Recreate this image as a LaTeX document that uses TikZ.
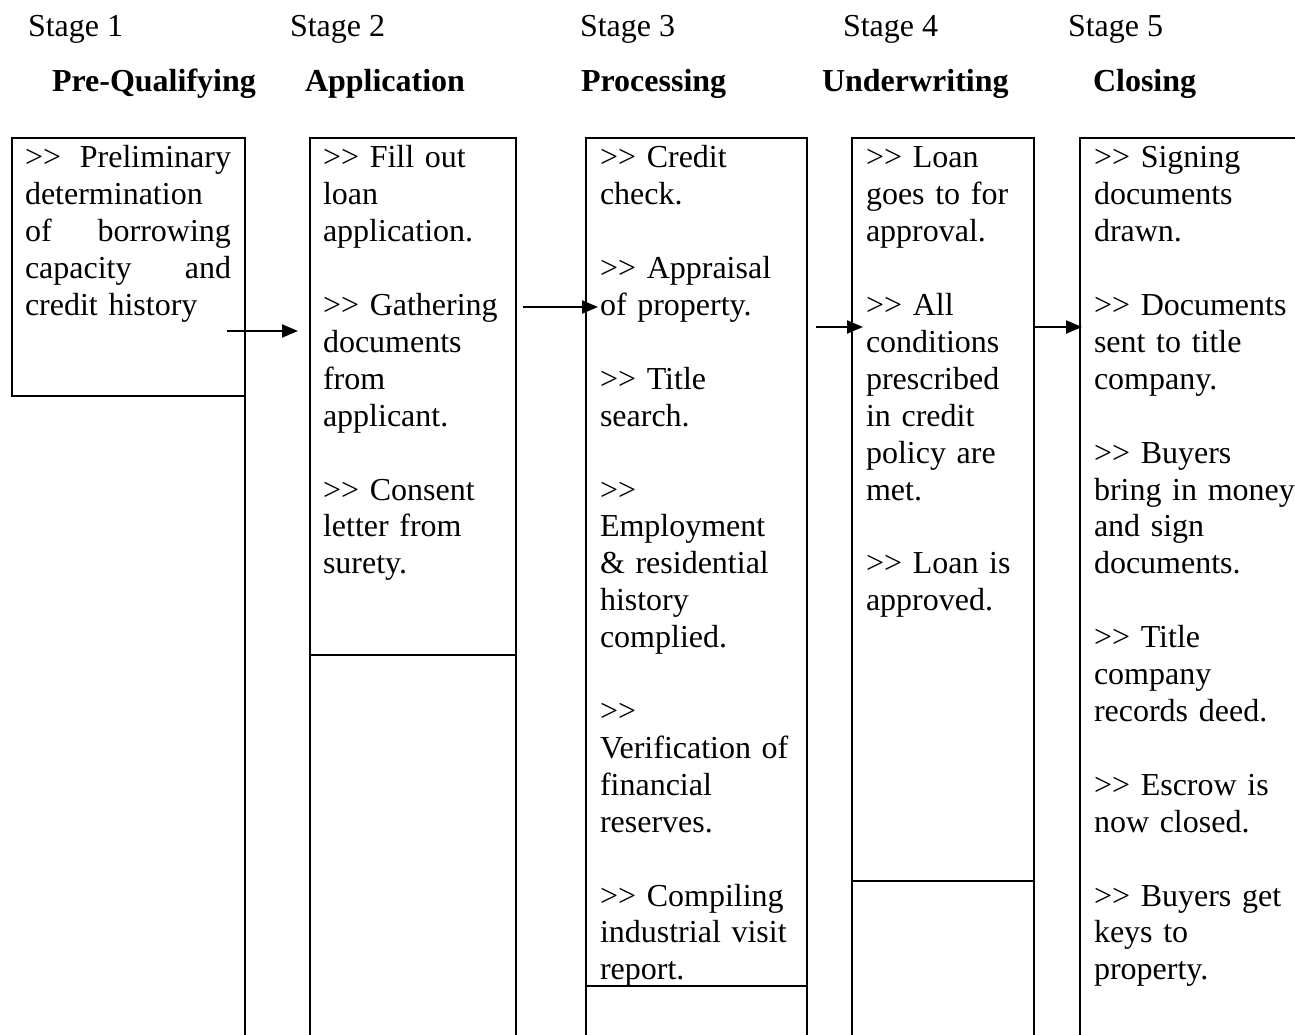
\documentclass[tikz,border=0pt]{standalone}
\usepackage{fontspec}
\setmainfont{Liberation Serif}
\usetikzlibrary{arrows.meta}
\newcommand\dgt{>\kern0pt>}
\begin{document}
\begin{tikzpicture}[x=1pt,y=-1pt,
  every node/.style={inner sep=0pt, outer sep=0pt},
  body/.style={font=\fontsize{32}{36.9}\selectfont, anchor=north west, align=left, text width=#1},
  body/.default=230pt,
  stagelbl/.style={font=\fontsize{32}{36.9}\selectfont, anchor=base west},
  head/.style={font=\fontsize{32}{36.9}\selectfont\bfseries, anchor=base west},
  frame/.style={line width=2.3pt},
  framebox/.style={draw, line width=2.3pt, anchor=north west, minimum width=#1},
  flow/.style={line width=2.2pt, -{Triangle[length=16pt,width=13pt]}}]
\useasboundingbox (0,0) rectangle (1295,1035);
\coordinate (bot) at (0,1035);
\coordinate (rgt) at (1295,0);

% stage labels
\node[stagelbl] (s1) at (28,37) {Stage 1};
\node[stagelbl] (s2) at (290,37) {Stage 2};
\node[stagelbl] (s3) at (580,37) {Stage 3};
\node[stagelbl] (s4) at (843,37) {Stage 4};
\node[stagelbl] (s5) at (1068,37) {Stage 5};

% headings
\node[head] (h1) at (52,92) {Pre-Qualifying};
\node[head] (h2) at (305,92) {Application};
\node[head] (h3) at (581,92) {Processing};
\node[head] (h4) at (822,92) {Underwriting};
\node[head] (h5) at (1093,92) {Closing};

% frames
\node[framebox=233pt, minimum height=258pt] (f1) at (12,138) {};
\node[framebox=206pt, minimum height=517pt] (f2) at (310,138) {};
\node[framebox=221pt, minimum height=848pt] (f3) at (586,138) {};
\node[framebox=182pt, minimum height=743pt] (f4) at (852,138) {};
\coordinate (f5) at (1080,138);

\draw[frame] (f1.south east) -- (f1.south east |- bot);
\draw[frame] (f2.south west) -- (f2.south west |- bot);
\draw[frame] (f2.south east) -- (f2.south east |- bot);
\draw[frame] (f3.south west) -- (f3.south west |- bot);
\draw[frame] (f3.south east) -- (f3.south east |- bot);
\draw[frame] (f4.south west) -- (f4.south west |- bot);
\draw[frame] (f4.south east) -- (f4.south east |- bot);
\draw[frame] (f5 |- bot) -- (f5) -- (f5 -| rgt);

% texts
\node[body=206pt] (t1) at (25,142.17) {\strut\dgt\hfill Preliminary\\
determination\\
of\hfill borrowing\\
capacity\hfill and\\
credit history};

\node[body] (t2) at (323,142.17) {\strut\dgt{} Fill out\\
loan\\
application.\\[36.9pt]
\dgt{} Gathering\\
documents\\
from\\
applicant.\\[36.9pt]
\dgt{} Consent\\
letter from\\
surety.};

\node[body] (t3) at (600,142.17) {\strut\dgt{} Credit\\
check.\\[36.9pt]
\dgt{} Appraisal\\
of property.\\[36.9pt]
\dgt{} Title\\
search.\\[36.9pt]
\dgt\\
Employment\\
\& residential\\
history\\
complied.\\[36.9pt]
\dgt\\
Verification of\\
financial\\
reserves.\\[36.9pt]
\dgt{} Compiling\\
industrial visit\\
report.};

\node[body] (t4) at (866,142.17) {\strut\dgt{} Loan\\
goes to for\\
approval.\\[36.9pt]
\dgt{} All\\
conditions\\
prescribed\\
in credit\\
policy are\\
met.\\[36.9pt]
\dgt{} Loan is\\
approved.};

\node[body] (t5) at (1094,142.17) {\strut\dgt{} Signing\\
documents\\
drawn.\\[36.9pt]
\dgt{} Documents\\
sent to title\\
company.\\[36.9pt]
\dgt{} Buyers\\
bring in money\\
and sign\\
documents.\\[36.9pt]
\dgt{} Title\\
company\\
records deed.\\[36.9pt]
\dgt{} Escrow is\\
now closed.\\[36.9pt]
\dgt{} Buyers get\\
keys to\\
property.};

% arrows
\coordinate (a1s) at (227,331);
\coordinate (a1e) at (298,331);
\coordinate (a2s) at (523,307);
\coordinate (a2e) at (598,307);
\coordinate (a3s) at (816,327);
\coordinate (a3e) at (863,327);
\coordinate (a4s) at (1035,327);
\coordinate (a4e) at (1082,327);
\draw[flow] (a1s) -- (a1e);
\draw[flow] (a2s) -- (a2e);
\draw[flow] (a3s) -- (a3e);
\draw[flow] (a4s) -- (a4e);
\end{tikzpicture}
\end{document}
